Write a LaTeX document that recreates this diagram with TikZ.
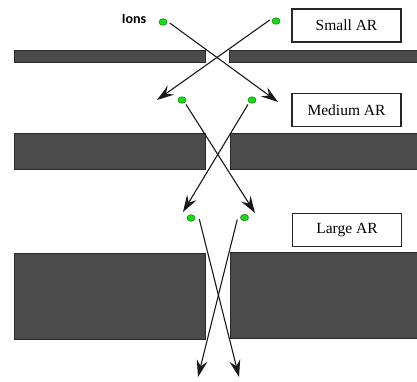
\documentclass[tikz,border=0pt]{standalone}
\usepackage{fontspec}
\setmainfont{Liberation Serif}
\newfontfamily\ionsfont{Carlito}
\usetikzlibrary{arrows.meta,shapes.geometric}
\definecolor{slabfill}{HTML}{4B4B4B}
\definecolor{slabedge}{HTML}{2A2A2A}
\definecolor{iongreen}{HTML}{11E011}
\definecolor{iongreenedge}{HTML}{137A13}
\tikzset{
  slab/.style={draw=slabedge, fill=slabfill, line width=0.9pt},
  label box/.style={draw=black!85, line width=1.2pt, minimum width=109pt, minimum height=33pt, inner sep=0pt, font=\fontsize{15.5}{18}\selectfont},
  ion/.style={ellipse, draw=iongreenedge, fill=iongreen, line width=0.5pt, minimum width=8pt, minimum height=6.5pt, inner sep=0pt},
  traj/.style={draw=black!90, line width=1.1pt, -{Stealth[length=17pt, width=11pt, inset=6pt]}},
}
\begin{document}
\begin{tikzpicture}[x=1pt, y=-1pt]
\useasboundingbox (0,0) rectangle (417,381);
% slabs
\path[slab] (14,50) rectangle (205,62);
\path[slab] (229,50) rectangle (418,62);
\path[slab] (14,133) rectangle (205,169);
\path[slab] (230,133) rectangle (418,169);
\path[slab] (14,253) rectangle (205,339);
\path[slab] (230,252) rectangle (418,338);
% labels
\node[label box] (small) at (346.5,25.5) {Small AR};
\node[label box] (medium) at (346.5,110) {Medium AR};
\node[label box] (large) at (347,230) {Large AR};
\node[font=\ionsfont\bfseries\fontsize{14}{16}\selectfont, inner sep=0pt] (ions) at (134,19) {Ions};
% ions
\node[ion] (i1) at (163,22) {};
\node[ion] (i2) at (276,21) {};
\node[ion] (m1) at (182,100) {};
\node[ion] (m2) at (252,100) {};
\node[ion] (l1) at (191,218) {};
\node[ion] (l2) at (244.5,217.5) {};
% arrow ends
\coordinate (e1) at (278,102);
\coordinate (e2) at (157,100);
\coordinate (e3) at (255,213);
\coordinate (e4) at (183,212);
\coordinate (e5) at (239,377);
\coordinate (e6) at (198,377);
% trajectories
\draw[traj] ([shift={(2.5,1)}]i1.east) -- (e1);
\draw[traj] ([shift={(-2,-1)}]i2.west) -- (e2);
\draw[traj] ([shift={(1,2)}]m1.south east) -- (e3);
\draw[traj] ([shift={(-1,2)}]m2.south west) -- (e4);
\draw[traj] ([shift={(4,1)}]l1.east) -- (e5);
\draw[traj] ([shift={(-3,2)}]l2.west) -- (e6);
\end{tikzpicture}
\end{document}
